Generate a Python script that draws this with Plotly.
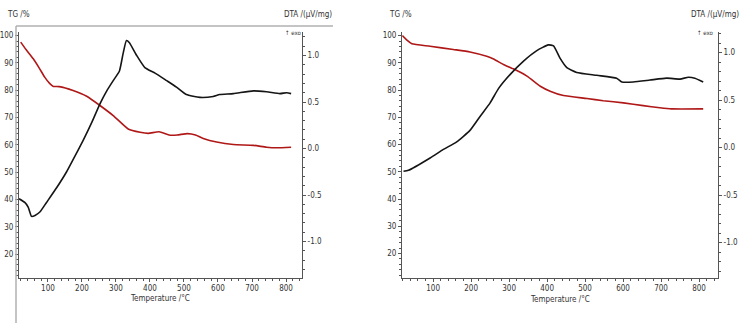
import plotly.graph_objects as go

W, H = 741, 323

# ---------------- data ----------------
# Left panel
left_tg_T = [20, 35, 57, 75, 91, 105, 116, 133, 174, 214, 253, 292, 336, 371, 395, 427, 456, 480, 510, 534, 559, 596, 645, 704, 743, 773, 815]
left_tg = [97.6, 95.0, 91.5, 88.0, 84.7, 82.5, 81.4, 81.3, 79.9, 77.8, 74.4, 70.7, 65.8, 64.6, 64.2, 64.8, 63.6, 63.6, 64.1, 63.6, 62.2, 61.0, 60.1, 59.8, 59.1, 58.9, 59.1]

left_dta_T = [15, 32, 42, 52, 62, 77, 96, 126, 155, 174, 204, 229, 253, 273, 292, 310, 321, 331, 339, 361, 385, 415, 449, 478, 507, 547, 586, 605, 645, 704, 743, 782, 802, 815]
left_dta = [-0.54, -0.58, -0.63, -0.73, -0.72, -0.68, -0.58, -0.42, -0.25, -0.12, 0.09, 0.28, 0.48, 0.62, 0.73, 0.83, 1.02, 1.16, 1.14, 1.00, 0.87, 0.81, 0.73, 0.66, 0.58, 0.55, 0.56, 0.58, 0.59, 0.62, 0.61, 0.59, 0.60, 0.59]

# Right panel
right_tg_T = [19, 31, 44, 92, 153, 197, 241, 259, 285, 311, 347, 382, 408, 443, 505, 548, 601, 653, 697, 728, 811]
right_tg = [100.0, 98.3, 97.0, 96.1, 94.9, 94.0, 92.4, 91.4, 89.4, 87.8, 85.1, 81.4, 79.6, 78.0, 76.9, 76.1, 75.3, 74.3, 73.5, 73.1, 73.1]

right_dta_T = [22, 35, 92, 127, 162, 197, 224, 250, 272, 303, 338, 373, 403, 417, 434, 452, 478, 531, 583, 597, 627, 671, 715, 750, 772, 789, 811]
right_dta = [-0.25, -0.24, -0.11, -0.02, 0.06, 0.18, 0.33, 0.47, 0.62, 0.77, 0.91, 1.02, 1.08, 1.07, 0.94, 0.84, 0.79, 0.76, 0.73, 0.69, 0.69, 0.71, 0.73, 0.72, 0.74, 0.73, 0.69]

x_ticks = [100, 200, 300, 400, 500, 600, 700, 800]
tg_ticks = [20, 30, 40, 50, 60, 70, 80, 90, 100]
dta_ticks = [-1.0, -0.5, 0.0, 0.5, 1.0]
dta_ticktext = ["-1.0", "-0.5", "0.0", "0.5", "1.0"]

# ---------------- figure ----------------
RED = "#b01818"
BLK = "#151515"
FONT = "Liberation Sans Narrow, DejaVu Sans Condensed, Roboto Condensed, Liberation Sans, Arial, sans-serif"
TICKCOL = "#333333"
AXCOL = "#555555"

line_kw = dict(shape="spline", smoothing=0.5, width=1.6)
fig = go.Figure()
fig.add_trace(go.Scatter(x=left_tg_T, y=left_tg, mode="lines", line=dict(color=RED, **line_kw), xaxis="x", yaxis="y", showlegend=False))
fig.add_trace(go.Scatter(x=left_dta_T, y=left_dta, mode="lines", line=dict(color=BLK, **line_kw), xaxis="x", yaxis="y2", showlegend=False))
fig.add_trace(go.Scatter(x=right_tg_T, y=right_tg, mode="lines", line=dict(color=RED, **line_kw), xaxis="x2", yaxis="y3", showlegend=False))
fig.add_trace(go.Scatter(x=right_dta_T, y=right_dta, mode="lines", line=dict(color=BLK, **line_kw), xaxis="x2", yaxis="y4", showlegend=False))

ydom = [1 - 277.5 / H, 1 - 31.5 / H]
common = dict(showgrid=False, zeroline=False, showline=True, linecolor=AXCOL, linewidth=1,
              ticks="outside", ticklen=3, tickcolor=AXCOL, tickwidth=1,
              tickfont=dict(family=FONT, size=8, color=TICKCOL))

def xax(dom, anchor, rng):
    return dict(domain=dom, anchor=anchor, range=rng, tickvals=x_ticks, ticklabelstandoff=0,
                minor=dict(ticks="outside", ticklen=2, dtick=20, tickcolor=AXCOL, tick0=0),
                **common)

def tgax(anchor, rng):
    return dict(domain=ydom, anchor=anchor, range=rng, tickvals=tg_ticks, side="left",
                minor=dict(ticks="outside", ticklen=2, dtick=2, tickcolor=AXCOL, tick0=0),
                **common)

def dtaax(anchor, overlay, rng):
    return dict(domain=ydom, anchor=anchor, overlaying=overlay, side="right", range=rng,
                tickvals=dta_ticks, ticktext=dta_ticktext,
                minor=dict(ticks="outside", ticklen=2, dtick=0.1, tickcolor=AXCOL, tick0=0),
                **common)

fig.update_layout(
    width=W, height=H,
    margin=dict(l=0, r=0, t=0, b=0),
    paper_bgcolor="white", plot_bgcolor="white",
    xaxis=xax([19 / W, 302 / W], "y", [15, 847]),
    yaxis=tgax("x", [11.4, 101.5]),
    yaxis2=dtaax("x", "y", [-1.387, 1.258]),
    xaxis2=xax([402 / W, 718 / W], "y3", [18, 850]),
    yaxis3=tgax("x2", [11.2, 101.5]),
    yaxis4=dtaax("x2", "y3", [-1.368, 1.221]),
)

def txt(x, y, s, size=8, xanchor="center"):
    fig.add_annotation(x=x / W, y=1 - y / H, xref="paper", yref="paper", text=s, showarrow=False,
                       xanchor=xanchor, yanchor="middle", font=dict(family=FONT, size=size, color=TICKCOL))

txt(5, 15, "TG /%", xanchor="left")
txt(387, 15, "TG /%", xanchor="left")
txt(282, 15, "DTA /(μV/mg)", xanchor="left")
txt(741, 14, "DTA /(μV/mg)", xanchor="right")
txt(283, 33, "↑ exo", size=6, xanchor="left")
txt(695, 33, "↑ exo", size=6, xanchor="left")
txt(160, 298, "Temperature /°C")
txt(560, 299, "Temperature /°C")

# light gray frame fragment on the left image
fig.add_shape(type="line", xref="paper", yref="paper", x0=16 / W, x1=333 / W, y0=1 - 26 / H, y1=1 - 26 / H,
              line=dict(color="#b0b0b0", width=1.5))
fig.add_shape(type="line", xref="paper", yref="paper", x0=16 / W, x1=16 / W, y0=1 - 26 / H, y1=0,
              line=dict(color="#b0b0b0", width=1.5))

fig.write_html("out.html")
